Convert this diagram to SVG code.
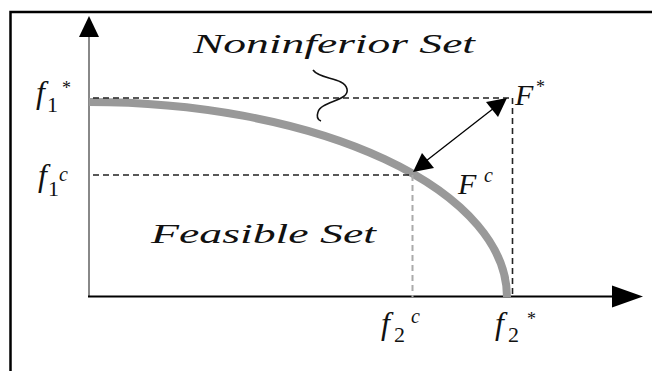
<svg xmlns="http://www.w3.org/2000/svg" width="652" height="371" viewBox="0 0 652 371">
<style>
text{font-family:"Liberation Serif","Times New Roman",Times,serif;fill:#111}
.it{font-style:italic}
.dash{stroke:#222;stroke-width:1.6;stroke-dasharray:6,4;fill:none}
</style>
<rect width="652" height="371" fill="#fff"/>
<g id="frame" stroke="#000" stroke-width="2.5" fill="none">
<path d="M10.5,371 V12 H652"/>
</g>
<g id="axes">
<line x1="89" y1="297" x2="89" y2="34" stroke="#888" stroke-width="2"/>
<path d="M89,16 L79,37 L99,37 Z" fill="#000"/>
<line x1="88" y1="296.5" x2="616" y2="296.5" stroke="#000" stroke-width="2"/>
<path d="M643,296.5 L612,285.5 L612,307.5 Z" fill="#000"/>
</g>
<g id="curve">
<path d="M89,102 A418,195 0 0 1 507,297" stroke="#999" stroke-width="8" fill="none"/>
</g>
<g id="connectors">
<line class="dash" x1="93" y1="98" x2="512" y2="98"/>
<line class="dash" x1="512.5" y1="98" x2="512.5" y2="297"/>
<line class="dash" x1="93" y1="175" x2="412" y2="175"/>
<line x1="412.5" y1="175" x2="412.5" y2="297" stroke="#aaa" stroke-width="2" stroke-dasharray="6,4"/>
<path d="M313,70 C320,80 344,77 347,89 C350,101 321,101 318,112 C316,118 318,120 321,121" stroke="#111" stroke-width="1.6" fill="none"/>
<line x1="426" y1="161" x2="494" y2="108" stroke="#000" stroke-width="1.3"/>
<path d="M507,98 L498,117 L486,102 Z" fill="#000"/>
<path d="M413,172 L422,153 L434,168 Z" fill="#000"/>
</g>
<g id="labels">
<text class="it" x="193" y="53" font-size="28" textLength="282" lengthAdjust="spacingAndGlyphs">Noninferior Set</text>
<text class="it" x="151" y="243" font-size="28" textLength="225" lengthAdjust="spacingAndGlyphs">Feasible Set</text>
<text class="it" x="36" y="103" font-size="32">f</text>
<text x="47" y="112" font-size="22">1</text>
<text x="62" y="94" font-size="18">*</text>
<text class="it" x="38" y="186" font-size="32">f</text>
<text x="48" y="196" font-size="22">1</text>
<text class="it" x="59" y="181" font-size="20">c</text>
<text class="it" x="515" y="105" font-size="30">F</text>
<text x="536" y="93" font-size="18">*</text>
<text class="it" x="458" y="194" font-size="30">F</text>
<text class="it" x="484" y="182" font-size="20">c</text>
<text class="it" x="381" y="334" font-size="32">f</text>
<text x="394" y="342" font-size="22">2</text>
<text class="it" x="411" y="323" font-size="20">c</text>
<text class="it" x="495" y="334" font-size="32">f</text>
<text x="508" y="342" font-size="22">2</text>
<text x="527" y="325" font-size="18">*</text>
</g>
</svg>
